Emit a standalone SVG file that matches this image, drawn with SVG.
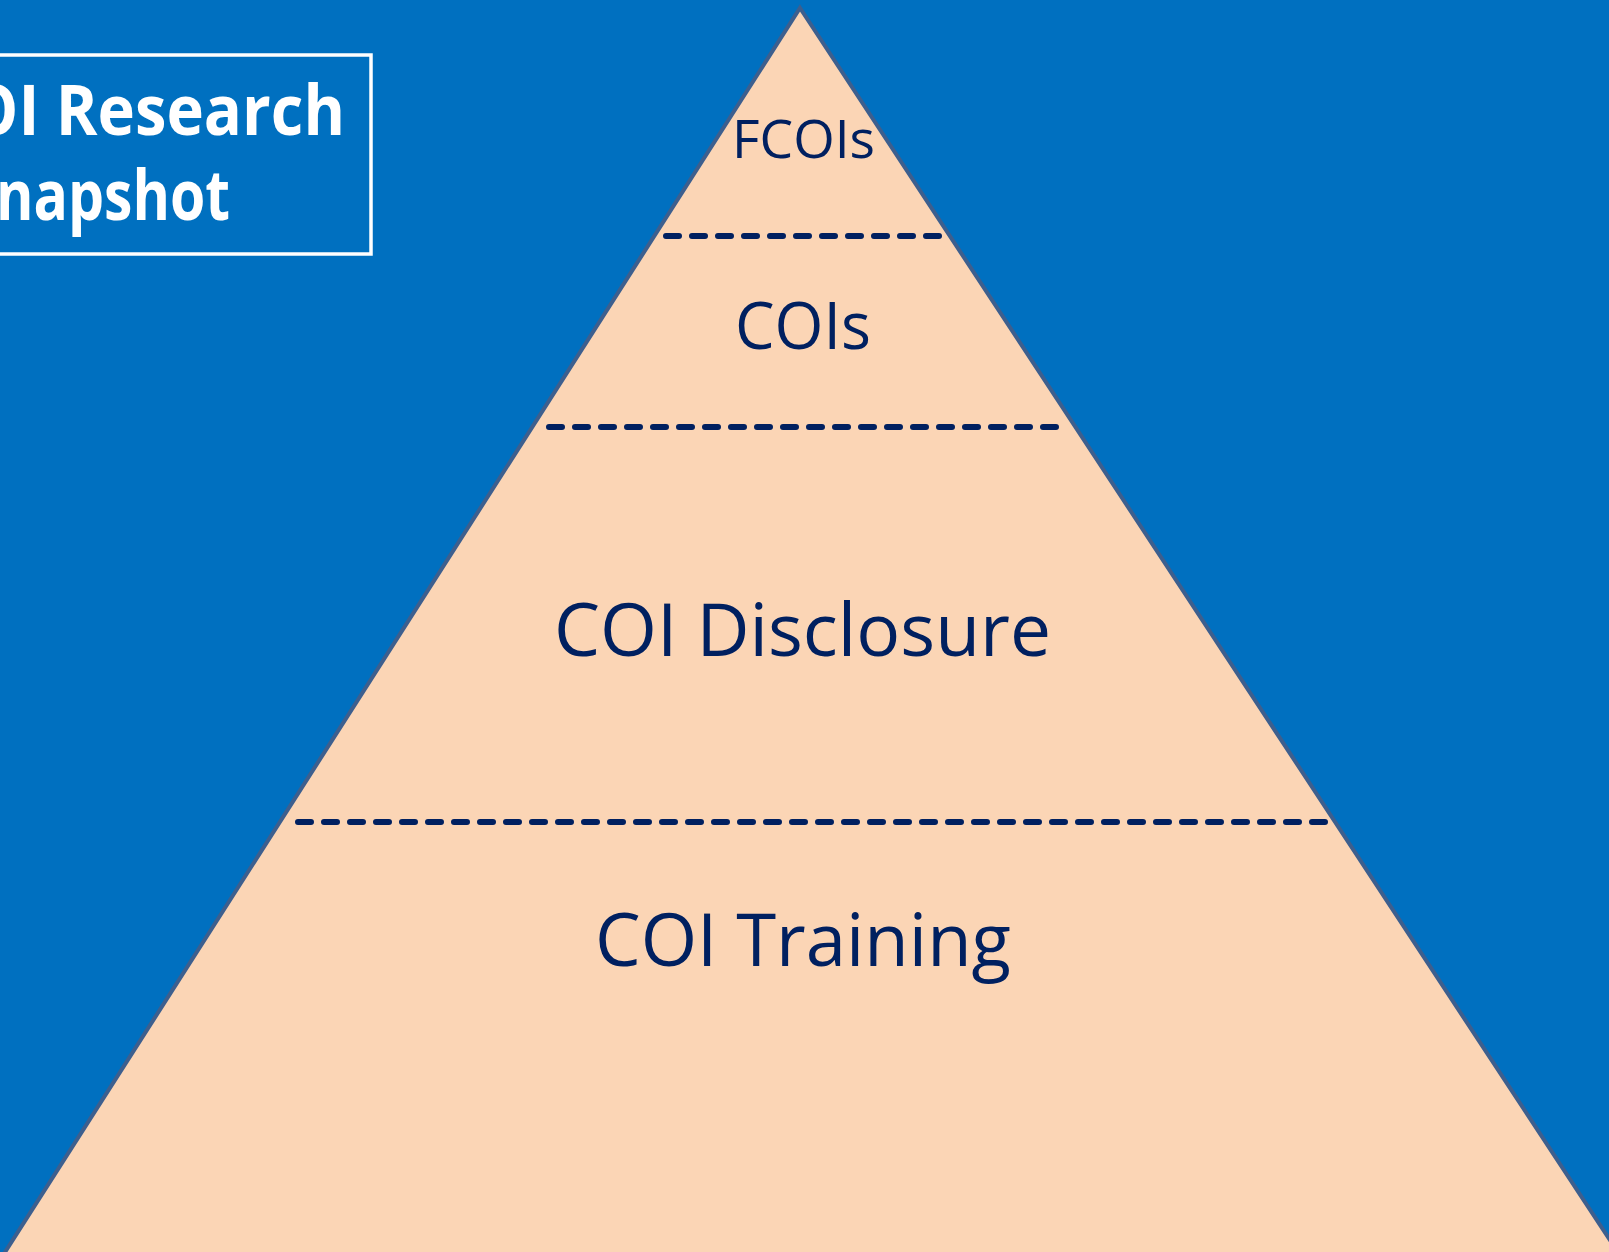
<svg xmlns="http://www.w3.org/2000/svg" width="1609" height="1252" viewBox="0 0 1609 1252">
  <style>
    .lbl { font-family: "Open Sans", "Noto Sans", "DejaVu Sans", sans-serif; fill: #002060; }
    .title { font-family: "Open Sans", "Noto Sans", "DejaVu Sans", sans-serif; font-weight: bold; fill: #FFFFFF; font-size: 70px; }
    .dash { stroke: #002060; stroke-linecap: round; fill: none; stroke-width: 6; stroke-dasharray: 13 13; }
  </style>
  <rect x="0" y="0" width="1609" height="1252" fill="#0070C0"/>

  <g id="title">
    <rect x="-10" y="55" width="381" height="199" fill="none" stroke="#FFFFFF" stroke-width="3.5"/>
    <text class="title" x="-32" y="135" textLength="377" lengthAdjust="spacingAndGlyphs">OI Research</text>
    <text class="title" x="-4" y="220" textLength="234" lengthAdjust="spacingAndGlyphs">napshot</text>
  </g>

  <g id="pyramid">
    <polygon points="800,8 1623,1260 0,1260" fill="#FBD5B5" stroke="#3D5F8E" stroke-width="4" stroke-linejoin="miter"/>
  </g>

  <g id="connectors">
    <line class="dash" x1="666" y1="236" x2="940" y2="236"/>
    <line class="dash" x1="549" y1="427" x2="1056" y2="427"/>
    <line class="dash" x1="298" y1="822" x2="1326" y2="822"/>
  </g>

  <g id="fcois">
    <text class="lbl" x="732" y="158" font-size="53" textLength="143" lengthAdjust="spacingAndGlyphs">FCOIs</text>
  </g>
  <g id="cois">
    <text class="lbl" x="735" y="349" font-size="66" textLength="136" lengthAdjust="spacingAndGlyphs">COIs</text>
  </g>
  <g id="disclosure">
    <text class="lbl" x="554" y="656" font-size="74" textLength="497" lengthAdjust="spacingAndGlyphs">COI Disclosure</text>
  </g>
  <g id="training">
    <text class="lbl" x="595" y="966" font-size="74" textLength="416" lengthAdjust="spacingAndGlyphs">COI Training</text>
  </g>
</svg>
